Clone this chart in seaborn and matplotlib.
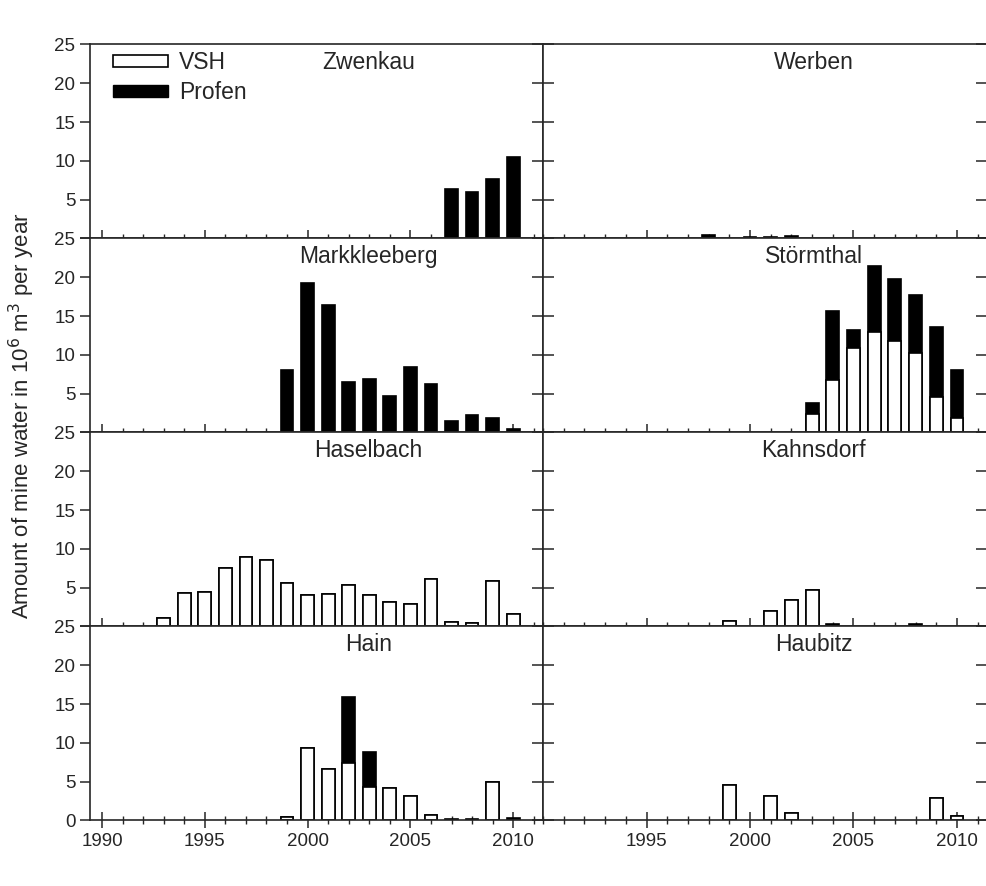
import numpy as np
import pandas as pd
import seaborn as sns
import matplotlib.pyplot as plt
from matplotlib.ticker import MultipleLocator
from matplotlib.patches import Patch

# ----------- Data (10^6 m^3 per year) -----------

years = [1993, 1994, 1995, 1996, 1997, 1998, 1999, 2000, 2001,
         2002, 2003, 2004, 2005, 2006, 2007, 2008, 2009, 2010]

zwenkau_vsh = [0, 0, 0, 0, 0, 0, 0, 0, 0, 0, 0, 0, 0, 0, 0, 0, 0, 0]
zwenkau_profen = [0, 0, 0, 0, 0, 0, 0, 0, 0, 0, 0, 0, 0, 0, 6.4, 6.0, 7.7, 10.45]

werben_vsh = [0, 0, 0, 0, 0, 0, 0, 0, 0, 0, 0, 0, 0, 0, 0, 0, 0, 0]
werben_profen = [0, 0, 0, 0, 0, 0.4, 0, 0.2, 0.2, 0.35, 0, 0, 0, 0, 0, 0, 0, 0]

markkleeberg_vsh = [0, 0, 0, 0, 0, 0, 0, 0, 0, 0, 0, 0, 0, 0, 0, 0, 0, 0]
markkleeberg_profen = [0, 0, 0, 0, 0, 0, 8.1, 19.2, 16.45, 6.5, 6.9, 4.7, 8.4, 6.2, 1.5, 2.3, 1.9, 0.5]

stoermthal_vsh = [0, 0, 0, 0, 0, 0, 0, 0, 0, 0, 2.35, 6.8, 10.9, 13.0, 11.8, 10.2, 4.6, 1.8]
stoermthal_profen = [0, 0, 0, 0, 0, 0, 0, 0, 0, 0, 1.4, 8.9, 2.35, 8.4, 8.0, 7.45, 8.95, 6.2]

haselbach_vsh = [1.1, 4.3, 4.5, 7.5, 8.95, 8.55, 5.6, 4.1, 4.2, 5.4, 4.05, 3.2, 2.9, 6.1, 0.55, 0.5, 5.8, 1.6]
haselbach_profen = [0, 0, 0, 0, 0, 0, 0, 0, 0, 0, 0, 0, 0, 0, 0, 0, 0, 0]

kahnsdorf_vsh = [0, 0, 0, 0, 0, 0, 0.65, 0, 2.05, 3.35, 4.75, 0, 0, 0, 0, 0, 0, 0]
kahnsdorf_profen = [0, 0, 0, 0, 0, 0, 0, 0, 0, 0, 0, 0.35, 0, 0, 0, 0.3, 0, 0]

hain_vsh = [0, 0, 0, 0, 0, 0, 0.5, 9.3, 6.6, 7.45, 4.35, 4.2, 3.15, 0.7, 0, 0, 5.0, 0]
hain_profen = [0, 0, 0, 0, 0, 0, 0, 0, 0, 8.45, 4.5, 0, 0, 0, 0.15, 0.15, 0, 0.3]

haubitz_vsh = [0, 0, 0, 0, 0, 0, 4.6, 0, 3.1, 0.95, 0, 0, 0, 0, 0, 0, 2.95, 0.6]
haubitz_profen = [0, 0, 0, 0, 0, 0, 0, 0, 0, 0, 0, 0, 0, 0, 0, 0, 0, 0]

# panel order: rows top to bottom, left then right
sites = [
    ("Zwenkau", zwenkau_vsh, zwenkau_profen),
    ("Werben", werben_vsh, werben_profen),
    ("Markkleeberg", markkleeberg_vsh, markkleeberg_profen),
    ("Störmthal", stoermthal_vsh, stoermthal_profen),
    ("Haselbach", haselbach_vsh, haselbach_profen),
    ("Kahnsdorf", kahnsdorf_vsh, kahnsdorf_profen),
    ("Hain", hain_vsh, hain_profen),
    ("Haubitz", haubitz_vsh, haubitz_profen),
]

# ----------- Style -----------

sns.set_style("ticks")
plt.rcParams["font.family"] = ["Liberation Sans", "DejaVu Sans"]
plt.rcParams["axes.linewidth"] = 1.2

fig = plt.figure(figsize=(9.87, 8.86), dpi=100)
gs = fig.add_gridspec(4, 2, left=0.0912, right=1.0, top=0.9498, bottom=0.074,
                      wspace=0, hspace=0, width_ratios=[453, 444])

BAR_W = 0.62

for i, (name, vsh, profen) in enumerate(sites):
    row, col = divmod(i, 2)
    ax = fig.add_subplot(gs[row, col])

    df = pd.DataFrame({"year": years, "vsh": vsh, "profen": profen})
    df["total"] = df["vsh"] + df["profen"]

    # total first in black, VSH part drawn over it in white -> stacked look
    tot = df[df["total"] > 0]
    sns.barplot(data=tot, x="year", y="total", native_scale=True, color="black",
                saturation=1, width=BAR_W, edgecolor="black", linewidth=1.2,
                errorbar=None, ax=ax)
    low = df[df["vsh"] > 0]
    if len(low):
        sns.barplot(data=low, x="year", y="vsh", native_scale=True, color="white",
                    saturation=1, width=BAR_W, edgecolor="black", linewidth=1.2,
                    errorbar=None, ax=ax)

    ax.set_xlabel("")
    ax.set_ylabel("")
    ax.set_ylim(0, 25)
    if col == 0:
        ax.set_xlim(1989.42, 2011.45)
        ax.set_xticks([1990, 1995, 2000, 2005, 2010])
    else:
        ax.set_xlim(1990, 2011.45)
        ax.set_xticks([1995, 2000, 2005, 2010])
    ax.xaxis.set_minor_locator(MultipleLocator(1))
    ax.set_yticks([0, 5, 10, 15, 20, 25])

    ax.tick_params(axis="x", which="major", direction="inout", length=11, width=1.1,
                   labelsize=13.5, bottom=True, top=False, labelbottom=(row == 3))
    ax.tick_params(axis="x", which="minor", direction="inout", length=6, width=1.0,
                   bottom=True, top=False)
    if row == 3:
        ax.set_xticklabels([str(t) for t in ax.get_xticks()])

    if col == 0:
        ax.tick_params(axis="y", direction="out", length=7, width=1.1, labelsize=13.5,
                       left=True, right=False, labelleft=True)
        ylabels = ["0" if row == 3 else "", "5", "10", "15", "20", "25"]
        ax.set_yticklabels(ylabels)
    else:
        ax.tick_params(axis="y", direction="inout", length=16, width=1.1,
                       left=True, right=True, labelleft=False)

    for sp in ax.spines.values():
        sp.set_visible(True)
        sp.set_linewidth(1.2)

    ax.text(0.615 if col == 0 else 0.61, 0.905, name, transform=ax.transAxes,
            ha="center", va="center", fontsize=16.5)

    if i == 0:
        handles = [Patch(facecolor="white", edgecolor="black", linewidth=1.2),
                   Patch(facecolor="black", edgecolor="black")]
        ax.legend(handles, ["VSH", "Profen"], loc="upper left",
                  bbox_to_anchor=(0.035, 1.0), frameon=False,
                  fontsize=16.5, handlelength=2.4, handleheight=0.4,
                  labelspacing=0.3, handletextpad=0.5, borderaxespad=0.1,
                  borderpad=0.2)

fig.text(0.022, 0.5305, "Amount of mine water in 10$^6$ m$^3$ per year",
         rotation=90, ha="center", va="center", fontsize=16)

fig.savefig("out.png", dpi=100)
